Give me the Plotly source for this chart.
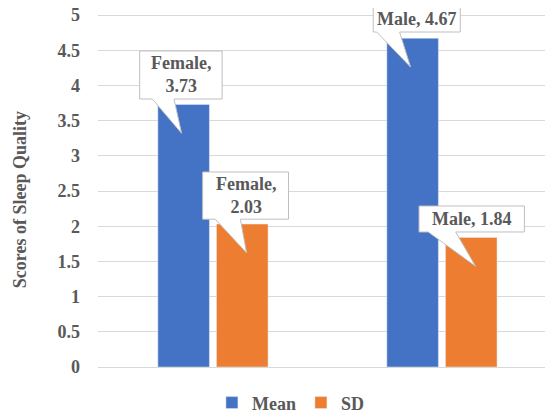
import plotly.graph_objects as go

categories = ["Female", "Male"]
mean_vals = [3.73, 4.67]
sd_vals = [2.03, 1.84]
series_names = ["Mean", "SD"]
y_ticks = [0, 0.5, 1, 1.5, 2, 2.5, 3, 3.5, 4, 4.5, 5]

BLUE = "#4472C4"
ORANGE = "#ED7D31"
GRAY = "#595959"
FONT = "Liberation Serif, Times New Roman, serif"
FS = 18

xs = list(range(len(categories)))
fig = go.Figure()
fig.add_trace(go.Bar(x=xs, y=mean_vals, name=f"<b>{series_names[0]}</b>", marker_color=BLUE))
fig.add_trace(go.Bar(x=xs, y=sd_vals, name=f"<b>{series_names[1]}</b>", marker_color=ORANGE))

# callouts: (bar x, value, label, box[x0,x1,y0,y1], wedge base x0,x1)
off = 0.142
callouts = [
    (0 - off, mean_vals[0], f"<b>{categories[0]},<br>{mean_vals[0]:.2f}</b>", (-0.32, 0.04, 3.807, 4.489), (-0.265, -0.17)),
    (1 - off, mean_vals[1], f"<b>{categories[1]}, {mean_vals[1]:.2f}</b>", (0.70, 1.08, 4.758, 5.14), (0.715, 0.815)),
    (0 + off, sd_vals[0], f"<b>{categories[0]},<br>{sd_vals[0]:.2f}</b>", (-0.045, 0.33, 2.10, 2.77), (0.01, 0.12)),
    (1 + off, sd_vals[1], f"<b>{categories[1]}, {sd_vals[1]:.2f}</b>", (0.90, 1.36, 1.918, 2.287), (0.94, 1.06)),
]
for cx, v, label, (bx0, bx1, by0, by1), (wx0, wx1) in callouts:
    tipx, tipy = cx + 0.005, v - 0.41
    path = (f"M {bx0},{by1} L {bx1},{by1} L {bx1},{by0} L {wx1},{by0} "
            f"L {tipx},{tipy} L {wx0},{by0} L {bx0},{by0} Z")
    fig.add_shape(type="path", path=path, xref="x", yref="y",
                  fillcolor="white", line=dict(color="#BFBFBF", width=1), layer="above")
    fig.add_annotation(x=(bx0 + bx1) / 2, y=(by0 + by1) / 2, xref="x", yref="y",
                       text=label, showarrow=False,
                       font=dict(family=FONT, size=FS, color=GRAY))

fig.add_annotation(text="<b>Scores of Sleep Quality</b>", xref="paper", yref="paper",
                   x=-0.171, y=0.465, xanchor="center", yanchor="middle",
                   textangle=-90, showarrow=False,
                   font=dict(family=FONT, size=FS, color=GRAY))

fig.update_layout(
    width=545, height=408,
    font=dict(family=FONT, size=FS, color=GRAY),
    margin=dict(l=90, r=0, t=0, b=49, autoexpand=False),
    paper_bgcolor="white", plot_bgcolor="white",
    barmode="group", bargap=0.488, bargroupgap=0.12,
    showlegend=True,
    legend=dict(orientation="h", x=0.424, xanchor="center", y=-0.100, yanchor="middle",
                font=dict(family=FONT, size=FS, color=GRAY),
                itemwidth=30, traceorder="normal"),
    xaxis=dict(range=[-0.502, 1.485], showticklabels=False, showgrid=False, zeroline=False,
               showline=True, linecolor="#D9D9D9", linewidth=1, fixedrange=True,
               automargin=False),
    yaxis=dict(range=[0, 5.0994], tickvals=y_ticks, ticktext=[f"<b>{t:g}</b>" for t in y_ticks],
               showgrid=True, gridcolor="#D9D9D9", gridwidth=1, zeroline=False,
               showline=False, ticks="", ticklabelstandoff=17, automargin=False,
               ticklabeloverflow="allow",
               tickfont=dict(family=FONT, size=FS, color=GRAY)),
)

fig.write_html("out.html")
